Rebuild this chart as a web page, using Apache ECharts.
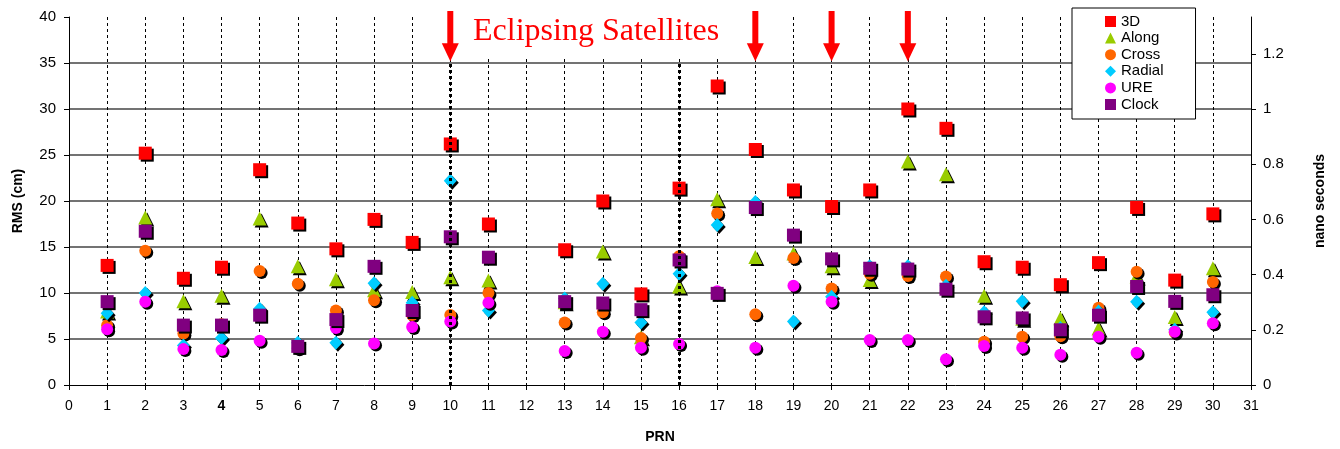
<!DOCTYPE html>
<html>
<head>
<meta charset="utf-8">
<title>PRN RMS</title>
<script src="https://cdn.jsdelivr.net/npm/echarts@6/dist/echarts.min.js"></script>
<style>
  html, body { margin: 0; padding: 0; background: #fff; }
  #chart { width: 1340px; height: 449px; }
</style>
</head>
<body>
<div id="chart"></div>
<script>
// Satellite PRN numbers (PRN 12 has no solution)
const prn = [1, 2, 3, 4, 5, 6, 7, 8, 9, 10, 11, 13, 14, 15, 16, 17, 18, 19, 20, 21, 22, 23, 24, 25, 26, 27, 28, 29, 30];

// Orbit RMS components (cm)
const rms3D  = [13.0, 25.2, 11.6, 12.8, 23.4, 17.6, 14.8, 18.0, 15.5, 26.2, 17.5, 14.7, 20.0, 9.9, 21.4, 32.5, 25.6, 21.2, 19.4, 21.2, 30.0, 27.9, 13.4, 12.8, 10.9, 13.3, 19.3, 11.4, 18.6];
const along  = [8.0, 18.2, 9.1, 9.7, 18.1, 12.9, 11.5, 10.3, 10.1, 11.7, 11.35, 9.0, 14.5, 5.2, 10.7, 20.2, 13.9, 14.3, 12.9, 11.4, 24.3, 22.9, 9.7, 7.2, 7.25, 6.15, 11.8, 7.4, 12.7];
const cross  = [6.5, 14.6, 5.6, 6.6, 12.4, 11.0, 8.1, 9.2, 7.6, 7.6, 10.0, 6.8, 7.9, 5.1, 14.0, 18.65, 7.7, 13.8, 10.5, 12.1, 11.85, 11.8, 4.7, 5.25, 5.3, 8.4, 12.3, 5.7, 11.2];
const radial = [7.8, 10.0, 4.3, 5.1, 8.3, 4.6, 4.6, 11.05, 8.95, 22.2, 8.1, 9.4, 11.0, 6.8, 12.1, 17.4, 19.9, 6.9, 9.6, 12.9, 12.9, 10.8, 7.9, 9.1, 6.2, 8.0, 9.05, 6.0, 7.9];
const ure    = [6.05, 9.05, 3.9, 3.8, 4.8, 4.0, 6.2, 4.5, 6.3, 6.9, 8.95, 3.7, 5.8, 4.05, 4.45, 10.2, 4.05, 10.8, 9.05, 4.9, 4.9, 2.8, 4.25, 4.05, 3.3, 5.25, 3.5, 5.8, 6.7];

// Clock RMS (nano seconds, right axis)
const clockNs = [0.302, 0.557, 0.217, 0.217, 0.253, 0.140, 0.237, 0.430, 0.270, 0.537, 0.463, 0.302, 0.297, 0.273, 0.453, 0.332, 0.643, 0.543, 0.457, 0.423, 0.420, 0.347, 0.247, 0.243, 0.200, 0.253, 0.357, 0.303, 0.327];

// Eclipsing satellites flagged with arrows
const eclipsing = [10, 18, 20, 22];
// PRNs with a heavy dotted guide line
const heavyLines = [10, 16];

// Axis ticks
const xTicks = Array.from({ length: 32 }, (_, i) => i);
const nsTicks = [0, 0.2, 0.4, 0.6, 0.8, 1, 1.2];

const SANS = 'Liberation Sans, Arial, sans-serif';
const CM_PER_NS = 30;
const CM_MAX = 40;

// arrow geometry (arrow spans from just above the plot down to the 35 cm line)
const ARROW_TOP_CM = 40.65;
const ARROW_TIP_CM = 35.2;
const ARROW_HEAD_LEN = 18;
const ARROW_HEAD_W = 17;
const ARROW_SHAFT_W = 6;

const shadow = { shadowColor: '#000', shadowBlur: 0, shadowOffsetX: 2, shadowOffsetY: 2 };

function pts(values) {
  return prn.map((p, i) => [p, values[i]]);
}

function scatter(name, values, symbol, size, color, yAxisIndex) {
  return {
    name, type: 'scatter', symbol, symbolSize: size,
    yAxisIndex: yAxisIndex || 0,
    data: pts(values),
    itemStyle: Object.assign({ color, opacity: 1 }, shadow),
    emphasis: { disabled: true },
    silent: true,
    animation: false
  };
}

const chart = echarts.init(document.getElementById('chart'), null, { renderer: 'canvas' });

const option = {
  animation: false,
  backgroundColor: '#fff',
  title: {
    text: 'Eclipsing Satellites',
    left: 430, top: 0,
    padding: [16, 55, 9, 43],
    backgroundColor: '#fff',
    z: 1,
    textStyle: { fontFamily: 'Liberation Serif, Times New Roman, serif', fontSize: 32, fontWeight: 'normal', color: '#ff0000' }
  },
  legend: {
    orient: 'vertical',
    left: 1072, top: 8,
    padding: [6, 32, 7, 33],
    itemGap: 1.6,
    itemWidth: 11, itemHeight: 11,
    backgroundColor: '#fff',
    borderColor: '#000', borderWidth: 1,
    selectedMode: false,
    textStyle: { fontFamily: SANS, fontSize: 15, color: '#000' },
    itemStyle: { shadowBlur: 0, shadowOffsetX: 0, shadowOffsetY: 0, shadowColor: 'transparent' },
    data: ['3D', 'Along', 'Cross', 'Radial', 'URE', 'Clock']
  },
  grid: { left: 69, right: 89, top: 17, bottom: 64, containLabel: false },
  xAxis: {
    type: 'value', min: 0, max: 31, interval: 1,
    name: 'PRN', nameLocation: 'middle', nameGap: 45,
    nameTextStyle: { fontFamily: SANS, fontSize: 14, fontWeight: 'bold', color: '#000' },
    axisLine: { show: true, onZero: false, lineStyle: { color: '#000', width: 1 } },
    axisTick: { show: true, length: 5, lineStyle: { color: '#000' } },
    axisLabel: {
      margin: 14, fontFamily: SANS, fontSize: 14, color: '#000',
      customValues: xTicks,
      formatter: v => (v === 4 ? '{b|4}' : String(v)),
      rich: { b: { fontFamily: SANS, fontSize: 14, fontWeight: 'bold', color: '#000' } }
    },
    splitLine: {
      show: true, showMinLine: false, showMaxLine: false,
      lineStyle: { color: '#000', width: 1, type: [3, 3] }
    }
  },
  yAxis: [
    {
      type: 'value', min: 0, max: CM_MAX, interval: 5, position: 'left',
      name: 'RMS (cm)', nameLocation: 'middle', nameGap: 44,
      nameTextStyle: { fontFamily: SANS, fontSize: 14, fontWeight: 'bold', color: '#000' },
      axisLine: { show: true, lineStyle: { color: '#000', width: 1 } },
      axisTick: { show: true, length: 5, lineStyle: { color: '#000' } },
      axisLabel: { margin: 13, fontFamily: SANS, fontSize: 15, color: '#000' },
      splitLine: {
        show: true, showMinLine: false, showMaxLine: false,
        lineStyle: { color: '#444', width: 1.5, type: 'solid' }
      }
    },
    {
      type: 'value', min: 0, max: CM_MAX / CM_PER_NS, position: 'right',
      name: 'nano seconds', nameLocation: 'middle', nameGap: 62,
      nameTextStyle: { fontFamily: SANS, fontSize: 14, fontWeight: 'bold', color: '#000' },
      axisLine: { show: true, lineStyle: { color: '#000', width: 1 } },
      axisTick: { show: true, length: 5, customValues: nsTicks, lineStyle: { color: '#000' } },
      axisLabel: { margin: 12, fontFamily: SANS, fontSize: 15, color: '#000', customValues: nsTicks },
      splitLine: { show: false }
    }
  ],
  series: [
    // heavy dotted guides at selected PRNs
    {
      name: 'guides', type: 'scatter', data: [], silent: true,
      markLine: {
        silent: true, symbol: ['none', 'none'], label: { show: false },
        lineStyle: { color: '#000', width: 3, type: [3, 3] },
        emphasis: { disabled: true },
        animation: false,
        data: heavyLines.map(p => [{ coord: [p, 0] }, { coord: [p, ARROW_TIP_CM] }])
      }
    },
    scatter('3D', rms3D, 'rect', 13, '#ff0000'),
    scatter('Along', along, 'triangle', 14, '#99cc00'),
    scatter('Cross', cross, 'circle', 12, '#ff6600'),
    scatter('Radial', radial, 'diamond', [13, 14], '#00ccff'),
    scatter('URE', ure, 'circle', 12, '#ff00ff'),
    scatter('Clock', clockNs, 'rect', 13, '#800080', 1)
  ]
};

chart.setOption(option);

// Red arrows above the eclipsing satellites, placed through the chart's own axes
const yTop = chart.convertToPixel({ yAxisIndex: 0 }, ARROW_TOP_CM);
const yTip = chart.convertToPixel({ yAxisIndex: 0 }, ARROW_TIP_CM);
const arrows = [];
eclipsing.forEach(p => {
  const x = chart.convertToPixel({ xAxisIndex: 0 }, p);
  const yHead = yTip - ARROW_HEAD_LEN;
  arrows.push({
    type: 'rect', silent: true, z: 100,
    shape: { x: x - ARROW_SHAFT_W / 2, y: yTop, width: ARROW_SHAFT_W, height: yHead - yTop + 1 },
    style: { fill: '#ff0000' }
  });
  arrows.push({
    type: 'polygon', silent: true, z: 100,
    shape: { points: [[x - ARROW_HEAD_W / 2, yHead], [x + ARROW_HEAD_W / 2, yHead], [x, yTip]] },
    style: { fill: '#ff0000' }
  });
});
chart.setOption({ graphic: { elements: arrows } });
</script>
</body>
</html>
